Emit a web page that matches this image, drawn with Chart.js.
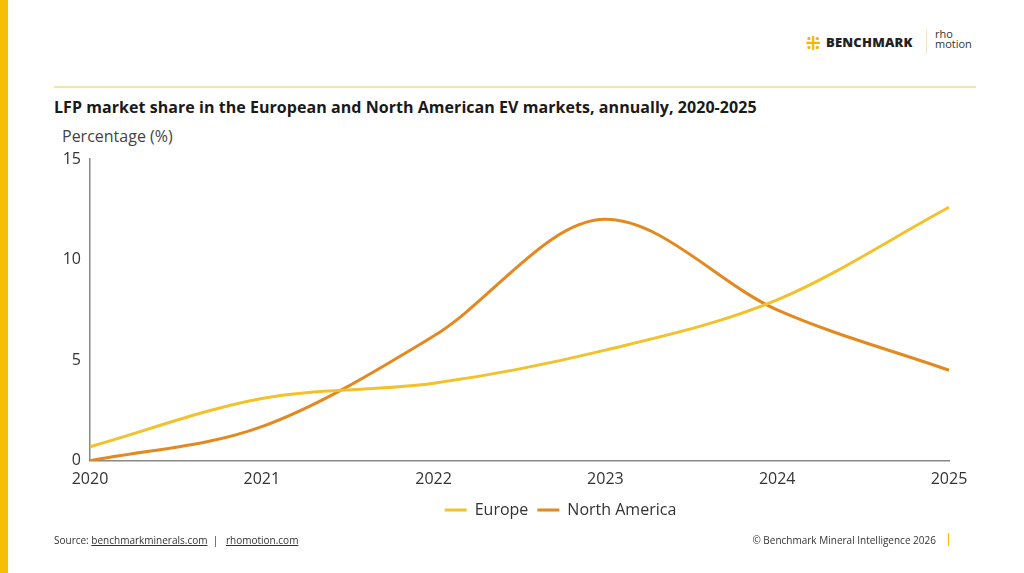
<!DOCTYPE html>
<html>
<head>
<meta charset="utf-8">
<script src="https://cdn.jsdelivr.net/npm/chart.js@4.4.1/dist/chart.umd.min.js"></script>
<style>
  html, body { margin: 0; padding: 0; background: #fff; }
  body { width: 1024px; height: 573px; position: relative; overflow: hidden; font-family: "Open Sans", "Noto Sans", sans-serif; color: #222; }
  .sidebar { position: absolute; left: 0; top: 0; width: 8px; height: 573px; background: #F6BE00; }
  .rule { position: absolute; left: 54px; top: 86px; width: 922px; height: 2px; background: #EEE6AA; }
  .title { position: absolute; left: 54px; top: 96px; font-size: 16px; font-weight: 700; color: #1a1a1a; letter-spacing: 0.05px; }
  .ylabel { position: absolute; left: 62px; top: 125px; font-size: 16px; color: #444; }
  .logo { position: absolute; left: 806px; top: 30px; height: 24px; }
  .logo .icon { position: absolute; left: 0; top: 2px; font-size: 17px; font-weight: 800; color: #F2B705; }
  .logo .bm { position: absolute; left: 20px; top: 3px; font-size: 13px; font-weight: 800; color: #222; letter-spacing: 0.2px; }
  .logo .sep { position: absolute; left: 120px; top: 0; width: 1px; height: 24px; background: #eee8c8; }
  .logo .rho { position: absolute; left: 129px; top: -1px; font-size: 11px; line-height: 10px; color: #333; }
  .footer-left { position: absolute; left: 54px; top: 533px; font-size: 10px; color: #333; }
  .footer-left span.u { text-decoration: underline; }
  .footer-right { position: absolute; right: 88px; top: 533px; font-size: 10px; color: #333; }
  .footer-bar { position: absolute; left: 948px; top: 533px; width: 1px; height: 13px; background: #F6BE00; }
  #chartBox { position: absolute; left: 0; top: 0; width: 1024px; height: 573px; }
</style>
</head>
<body>
<div class="sidebar"></div>
<div class="logo">
  <span class="icon">⁜</span>
  <span class="bm">BENCHMARK</span>
  <span class="sep"></span>
  <span class="rho">rho<br>motion</span>
</div>
<div class="rule"></div>
<div class="title">LFP market share in the European and North American EV markets, annually, 2020-2025</div>
<div class="ylabel">Percentage (%)</div>
<div id="chartBox"><canvas id="myChart"></canvas></div>
<div class="footer-left">Source: <span class="u">benchmarkminerals.com</span> &nbsp;| &nbsp; <span class="u">rhomotion.com</span></div>
<div class="footer-right">© Benchmark Mineral Intelligence 2026</div>
<div class="footer-bar"></div>
<script>
const years = ['2020', '2021', '2022', '2023', '2024', '2025'];
const europe = [0.7, 3.1, 3.85, 5.5, 8.0, 12.6];
const northAmerica = [0.0, 1.7, 6.2, 12.0, 7.5, 4.5];
const yTicks = [0, 5, 10, 15];

const data = {
  labels: years,
  datasets: [
    {
      label: 'Europe',
      data: europe,
      borderColor: '#F1C22B',
      backgroundColor: '#F1C22B',
      borderWidth: 3,
      pointRadius: 0,
      pointStyle: 'line',
      cubicInterpolationMode: 'monotone'
    },
    {
      label: 'North America',
      data: northAmerica,
      borderColor: '#E3891F',
      backgroundColor: '#E3891F',
      borderWidth: 3,
      pointRadius: 0,
      pointStyle: 'line',
      cubicInterpolationMode: 'monotone'
    }
  ]
};

// nudge the legend right, as in the original layout
const legendShift = {
  id: 'legendShift',
  afterUpdate: chart => {
    const lg = chart.legend;
    if (!lg) return;
    lg.left += 66;
    lg.right += 66;
    lg.adjustHitBoxes();
  }
};

const config = {
  type: 'line',
  data: data,
  options: {
    responsive: true,
    maintainAspectRatio: false,
    animation: false,
    layout: {
      padding: { left: 40, right: 75, top: 159, bottom: 45 }
    },
    scales: {
      x: {
        offset: false,
        grid: { display: false, drawTicks: true, tickLength: 5, tickColor: '#888' },
        border: { display: true, color: '#888', width: 1.5 },
        ticks: { color: '#333', font: { family: 'Open Sans', size: 16 }, padding: 4, maxRotation: 0 }
      },
      y: {
        min: 0,
        max: 15,
        afterFit: scale => { scale.width = 50; },
        afterBuildTicks: scale => { scale.ticks = yTicks.map(v => ({ value: v })); },
        grid: { display: false, drawTicks: true, tickLength: 5, tickColor: '#888' },
        border: { display: true, color: '#888', width: 1.5 },
        ticks: { color: '#333', font: { family: 'Open Sans', size: 16 }, padding: 4 }
      }
    },
    plugins: {
      legend: {
        position: 'bottom',
        labels: {
          usePointStyle: true,
          pointStyleWidth: 22,
          color: '#333',
          font: { family: 'Open Sans', size: 16 },
          padding: 9
        }
      },
      tooltip: { enabled: false }
    }
  },
  plugins: [legendShift]
};

const myChart = new Chart(document.getElementById('myChart'), config);
</script>
</body>
</html>
